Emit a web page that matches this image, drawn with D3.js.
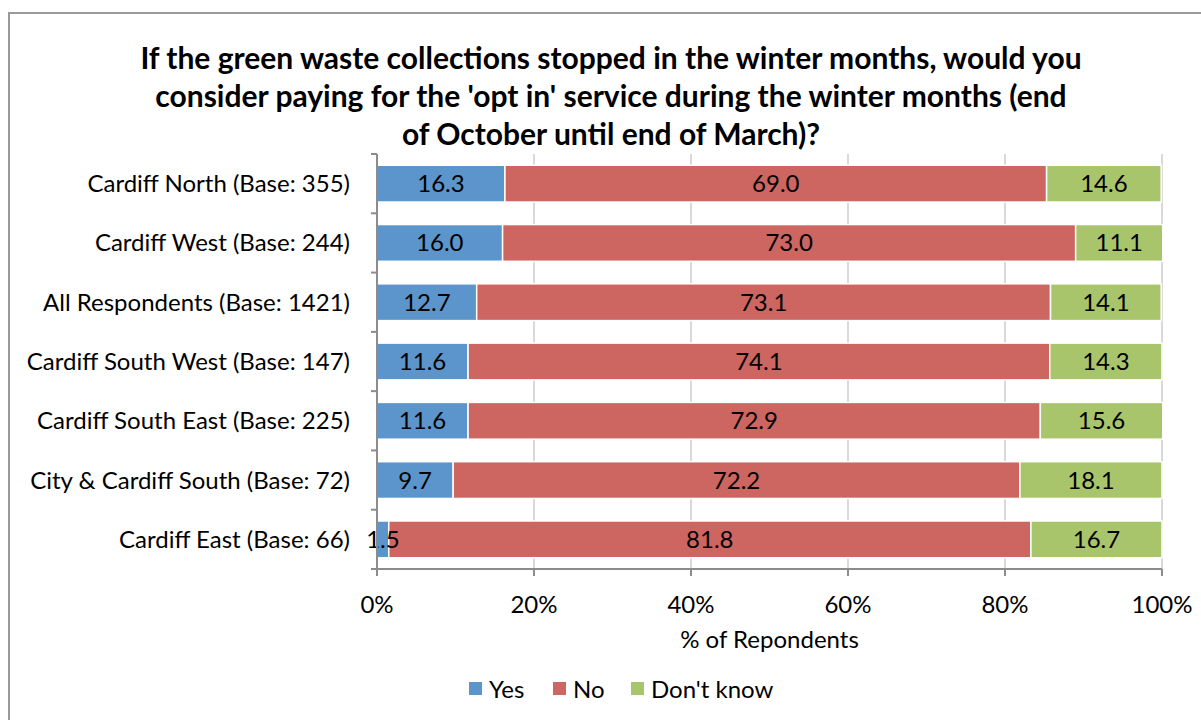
<!DOCTYPE html>
<html>
<head>
<meta charset="utf-8">
<script src="https://cdn.jsdelivr.net/npm/d3@7"></script>
<style>
  body { margin: 0; background: #fff; }
  text { font-family: Lato, "Open Sans", sans-serif; fill: #000; }
</style>
</head>
<body>
<div id="chart"></div>
<script>
// chart data
var categories = [
  "Cardiff North (Base: 355)",
  "Cardiff West (Base: 244)",
  "All Respondents (Base: 1421)",
  "Cardiff South West (Base: 147)",
  "Cardiff South East (Base: 225)",
  "City & Cardiff South (Base: 72)",
  "Cardiff East (Base: 66)"
];
var yesValues = [16.3, 16.0, 12.7, 11.6, 11.6, 9.7, 1.5];
var noValues = [69.0, 73.0, 73.1, 74.1, 72.9, 72.2, 81.8];
var dontKnowValues = [14.6, 11.1, 14.1, 14.3, 15.6, 18.1, 16.7];
var seriesNames = ["Yes", "No", "Don't know"];
var seriesColors = ["#5b95cb", "#cd6560", "#a9c56b"];
var xTicks = [0, 20, 40, 60, 80, 100];
var titleLines = [
  "If the green waste collections stopped in the winter months, would you",
  "consider paying for the 'opt in' service during the winter months (end",
  "of October until end of March)?"
];

var svgWidth = 1201;
var svgHeight = 720;
var margin = { top: 154, right: 39, bottom: 151, left: 377 };
var width = svgWidth - margin.left - margin.right;
var height = svgHeight - margin.top - margin.bottom;

var svg = d3.select("#chart")
  .append("svg")
  .attr("width", svgWidth)
  .attr("height", svgHeight);

// outer frame
svg.append("rect")
  .attr("x", 9)
  .attr("y", 13)
  .attr("width", svgWidth + 10)
  .attr("height", svgHeight + 10)
  .attr("fill", "none")
  .attr("stroke", "#9a9a9a")
  .attr("stroke-width", 2);

// title
svg.append("g").selectAll("text")
  .data(titleLines)
  .enter()
  .append("text")
  .attr("x", 611)
  .attr("y", (d, i) => 69 + i * 38)
  .attr("text-anchor", "middle")
  .style("font-size", "30px")
  .style("font-weight", "bold")
  .text(d => d);

var chartGroup = svg.append("g")
  .attr("transform", `translate(${margin.left}, ${margin.top})`);

var xScale = d3.scaleLinear().domain([0, 100]).range([0, width]);
var yScale = d3.scaleBand().domain(categories).range([0, height]).paddingInner(0.38).paddingOuter(0.19);

// gridlines
chartGroup.append("g")
  .selectAll("line")
  .data(xTicks.slice(1))
  .enter()
  .append("line")
  .attr("x1", d => xScale(d))
  .attr("x2", d => xScale(d))
  .attr("y1", 0)
  .attr("y2", height)
  .attr("stroke", "#d9d9d9")
  .attr("stroke-width", 2);

// stacked data
var rows = categories.map((c, i) => ({ cat: c, Yes: yesValues[i], No: noValues[i], "Don't know": dontKnowValues[i] }));
var stacked = d3.stack().keys(seriesNames)(rows);

var layers = chartGroup.selectAll(".layer")
  .data(stacked)
  .enter()
  .append("g")
  .attr("class", "layer")
  .attr("fill", (d, i) => seriesColors[i]);

layers.selectAll("rect")
  .data(d => d)
  .enter()
  .append("rect")
  .attr("x", d => xScale(d[0]))
  .attr("y", d => yScale(d.data.cat))
  .attr("width", d => xScale(d[1]) - xScale(d[0]))
  .attr("height", yScale.bandwidth())
  .attr("stroke", "#fff")
  .attr("stroke-width", 1.5);

// labels on top of all bars
var labelData = [];
stacked.forEach(s => s.forEach(p => labelData.push({ p: p, key: s.key })));
chartGroup.append("g")
  .selectAll("text")
  .data(labelData)
  .enter()
  .append("text")
  .attr("x", d => (xScale(d.p[0]) + xScale(d.p[1])) / 2)
  .attr("y", d => yScale(d.p.data.cat) + yScale.bandwidth() / 2 + 8.5)
  .attr("text-anchor", "middle")
  .style("font-size", "24px")
  .text(d => d.p.data[d.key].toFixed(1));

// y axis
var leftAxis = chartGroup.append("g");
leftAxis.append("line")
  .attr("x1", 0).attr("x2", 0)
  .attr("y1", 0).attr("y2", height)
  .attr("stroke", "#8c8c8c").attr("stroke-width", 2);
leftAxis.selectAll(".tk")
  .data(d3.range(categories.length + 1))
  .enter()
  .append("line")
  .attr("x1", -6).attr("x2", 0)
  .attr("y1", d => d * height / categories.length)
  .attr("y2", d => d * height / categories.length)
  .attr("stroke", "#8c8c8c").attr("stroke-width", 2);
leftAxis.selectAll(".cat")
  .data(categories)
  .enter()
  .append("text")
  .attr("x", -27)
  .attr("y", d => yScale(d) + yScale.bandwidth() / 2 + 8.5)
  .attr("text-anchor", "end")
  .style("font-size", "24px")
  .text(d => d);

// x axis
var bottomAxis = chartGroup.append("g").attr("transform", `translate(0, ${height})`);
bottomAxis.append("line")
  .attr("x1", 0).attr("x2", width)
  .attr("stroke", "#8c8c8c").attr("stroke-width", 2);
bottomAxis.selectAll(".tk")
  .data(xTicks)
  .enter()
  .append("line")
  .attr("x1", d => xScale(d)).attr("x2", d => xScale(d))
  .attr("y1", 0).attr("y2", 7)
  .attr("stroke", "#8c8c8c").attr("stroke-width", 2);
bottomAxis.selectAll(".tl")
  .data(xTicks)
  .enter()
  .append("text")
  .attr("x", d => xScale(d))
  .attr("y", 44)
  .attr("text-anchor", "middle")
  .style("font-size", "24px")
  .text(d => d + "%");

chartGroup.append("text")
  .attr("x", width / 2)
  .attr("y", height + 79)
  .attr("text-anchor", "middle")
  .style("font-size", "24px")
  .text("% of Repondents");

// legend
var legendX = [469, 553, 631];
var legend = svg.append("g");
legend.selectAll("rect")
  .data(seriesNames)
  .enter()
  .append("rect")
  .attr("x", (d, i) => legendX[i])
  .attr("y", 682)
  .attr("width", 13)
  .attr("height", 13)
  .attr("fill", (d, i) => seriesColors[i]);
legend.selectAll("text")
  .data(seriesNames)
  .enter()
  .append("text")
  .attr("x", (d, i) => legendX[i] + 20)
  .attr("y", 698)
  .style("font-size", "24px")
  .text(d => d);
</script>
</body>
</html>
